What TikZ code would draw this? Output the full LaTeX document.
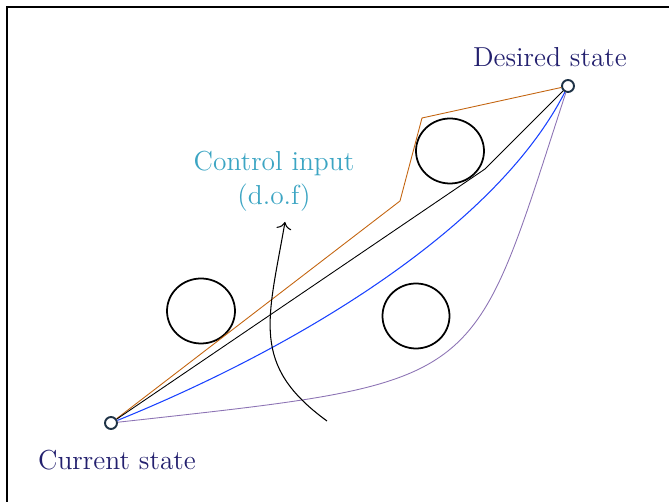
\documentclass[tikz,border=0pt]{standalone}
\usepackage{tikz}
\usetikzlibrary{positioning,arrows.meta}
\definecolor{statecol}{RGB}{35,32,110}
\definecolor{inputcol}{RGB}{60,165,195}
\definecolor{pathorange}{RGB}{195,100,15}
\definecolor{pathblue}{RGB}{25,65,255}
\definecolor{pathpurple}{RGB}{140,115,180}
\definecolor{dotcol}{RGB}{30,50,70}
\tikzset{
	statedot/.style = {circle, draw = dotcol, line width = 1.1pt, fill = white, inner sep = 0pt, minimum size = 0.24cm},
	obstacle/.style = {draw, line width = 1pt},
	statetext/.style = {text = statecol, font = \Large, scale = 1.085, transform shape}
}
\begin{document}
\begin{tikzpicture}
	\useasboundingbox (0,0) rectangle (13.38,10.04);
	\draw [line width = 1.2pt] (0.14,-1) |- (14,9.90);
	\draw [obstacle] (4.02,3.82) ellipse (0.68 and 0.65);
	\draw [obstacle] (9.00,7.02) ellipse (0.68 and 0.65);
	\draw [obstacle] (8.32,3.72) ellipse (0.67 and 0.65);
	\node [statedot] (cur) at (2.22,1.58) {};
	\node [statedot] (des) at (11.36,8.32) {};
	\node [statetext] (curtext) at (2.34,0.84) {Current state};
	\node [statetext] (destext) at (11.0,8.90) {Desired state};
	\node [statetext, text = inputcol, align = center] (input) at (5.48,6.42) {Control input\\(d.o.f)};
	\draw [pathorange, line width = 0.5pt] (cur) -- (8.0,6.02) -- (8.44,7.68) -- (des);
	\draw [line width = 0.5pt] (cur) -- (9.70,6.66) -- (des);
	\draw [pathblue, line width = 0.6pt] (cur) .. controls (5.92,3.08) and (9.90,5.46) .. (des);
	\draw [pathpurple, line width = 0.5pt] (cur) .. controls (9.78,2.42) and (9.38,2.24) .. (des);
	\coordinate (inputfoot) at (6.54,1.62);
	\coordinate (inputtip) at (5.70,5.60);
	\draw [-{To[scale=1.4]}, line width = 0.6pt] (inputfoot) .. controls (5.0,2.74) and (5.36,3.64) .. (inputtip);
\end{tikzpicture}
\end{document}
